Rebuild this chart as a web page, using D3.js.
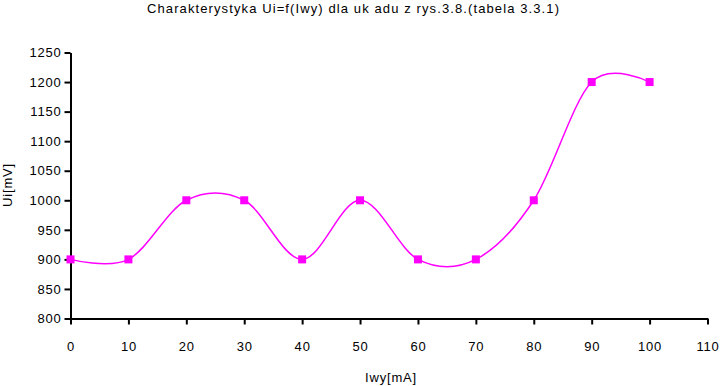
<!DOCTYPE html>
<html>
<head>
<meta charset="utf-8">
<script src="https://cdn.jsdelivr.net/npm/d3@7"></script>
<style>
  body { margin: 0; background: #fff; }
  svg text { font-family: "Liberation Sans", Arial, sans-serif; font-size: 13px; fill: #000; letter-spacing: 0.8px; }
</style>
</head>
<body>
<div class="chart"></div>
<script>
var iwy = [0, 10, 20, 30, 40, 50, 60, 70, 80, 90, 100];
var ui = [900, 900, 1000, 1000, 900, 1000, 900, 900, 1000, 1200, 1200];
var xTicks = [0, 10, 20, 30, 40, 50, 60, 70, 80, 90, 100, 110];
var yTicks = [800, 850, 900, 950, 1000, 1050, 1100, 1150, 1200, 1250];

var w = 722, h = 386;
var margin = {top: 52.5, right: 14.5, bottom: 67.5, left: 70.5};

var svg = d3.select("div.chart")
    .append("svg")
    .attr("width", w)
    .attr("height", h);

var x = d3.scaleLinear().domain([0, 110]).range([margin.left, w - margin.right]);
var y = d3.scaleLinear().domain([800, 1250]).range([h - margin.bottom, margin.top]);

// title
svg.append("text")
    .attr("x", 353)
    .attr("y", 13)
    .attr("text-anchor", "middle")
    .attr("textLength", 412)
    .style("letter-spacing", "0px")
    .text("Charakterystyka Ui=f(Iwy) dla uk adu z rys.3.8.(tabela 3.3.1)");

// axes
svg.append("g")
    .attr("transform", "translate(0," + y(800) + ")")
    .call(d3.axisBottom(x).tickValues(xTicks).tickFormat(d3.format("d"))
        .tickSize(6).tickPadding(17).tickSizeOuter(0));

svg.append("g")
    .attr("transform", "translate(" + x(0) + ",0)")
    .call(d3.axisLeft(y).tickValues(yTicks).tickFormat(d3.format("d"))
        .tickSize(6).tickPadding(3).tickSizeOuter(0));

svg.selectAll(".domain").attr("stroke", "#000").attr("stroke-width", 2);
svg.selectAll(".tick line").attr("stroke", "#000").attr("stroke-width", 2);
svg.selectAll(".tick text").style("font-size", "13px").attr("fill", "#000");

// axis titles
svg.append("text")
    .attr("x", 391)
    .attr("y", 382)
    .attr("text-anchor", "middle")
    .text("Iwy[mA]");

svg.append("text")
    .attr("transform", "translate(12,185) rotate(-90)")
    .attr("text-anchor", "middle")
    .text("Ui[mV]");

// smoothed line
var pts = iwy.map(function(d, i){ return [d, ui[i]]; });
var line = d3.line()
    .x(d => x(d[0]))
    .y(d => y(d[1]))
    .curve(d3.curveCardinal.tension(0));

svg.append("path")
    .datum(pts)
    .attr("d", line)
    .attr("fill", "none")
    .attr("stroke", "#ff00ff")
    .attr("stroke-width", 1.5);

// markers
svg.append("g")
    .selectAll("rect")
    .data(pts)
    .enter()
    .append("rect")
        .attr("x", d => x(d[0]) - 4)
        .attr("y", d => y(d[1]) - 4)
        .attr("width", 8)
        .attr("height", 8)
        .attr("fill", "#ff00ff");
</script>
</body>
</html>
